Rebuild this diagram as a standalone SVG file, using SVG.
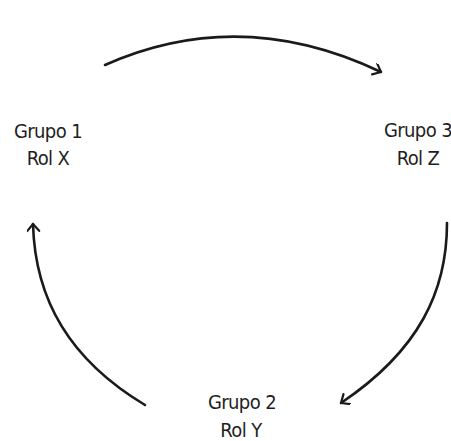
<svg xmlns="http://www.w3.org/2000/svg" width="451" height="441" viewBox="0 0 451 441">
<defs>
<marker id="arr" markerWidth="14" markerHeight="14" refX="10" refY="6" orient="auto" markerUnits="userSpaceOnUse">
<polyline points="3,0 10,6 3,12" fill="none" stroke="#1a1a1a" stroke-width="2.2" stroke-linecap="round" stroke-linejoin="round"/>
</marker>
<style>
.c{fill:none;stroke:#1a1a1a;stroke-width:2.6;stroke-linecap:round;marker-end:url(#arr)}
text{font-family:"Liberation Sans Narrow","DejaVu Sans Condensed",sans-serif;font-size:20px;fill:#1e1e1e;text-anchor:middle;letter-spacing:-0.6px}
</style>
</defs>
<rect width="451" height="441" fill="#fff"/>
<g id="connectors">
<path class="c" d="M105,65 Q240,5 381,72"/>
<path class="c" d="M447,223 C447,290 420,350 341,403"/>
<path class="c" d="M145,405 C70,360 35,300 33,224"/>
</g>
<g id="grupo1"><text x="48" y="138">Grupo 1</text><text x="48" y="165">Rol X</text></g>
<g id="grupo3"><text x="418" y="137">Grupo 3</text><text x="418" y="165">Rol Z</text></g>
<g id="grupo2"><text x="242" y="409">Grupo 2</text><text x="241" y="437">Rol Y</text></g>
</svg>
